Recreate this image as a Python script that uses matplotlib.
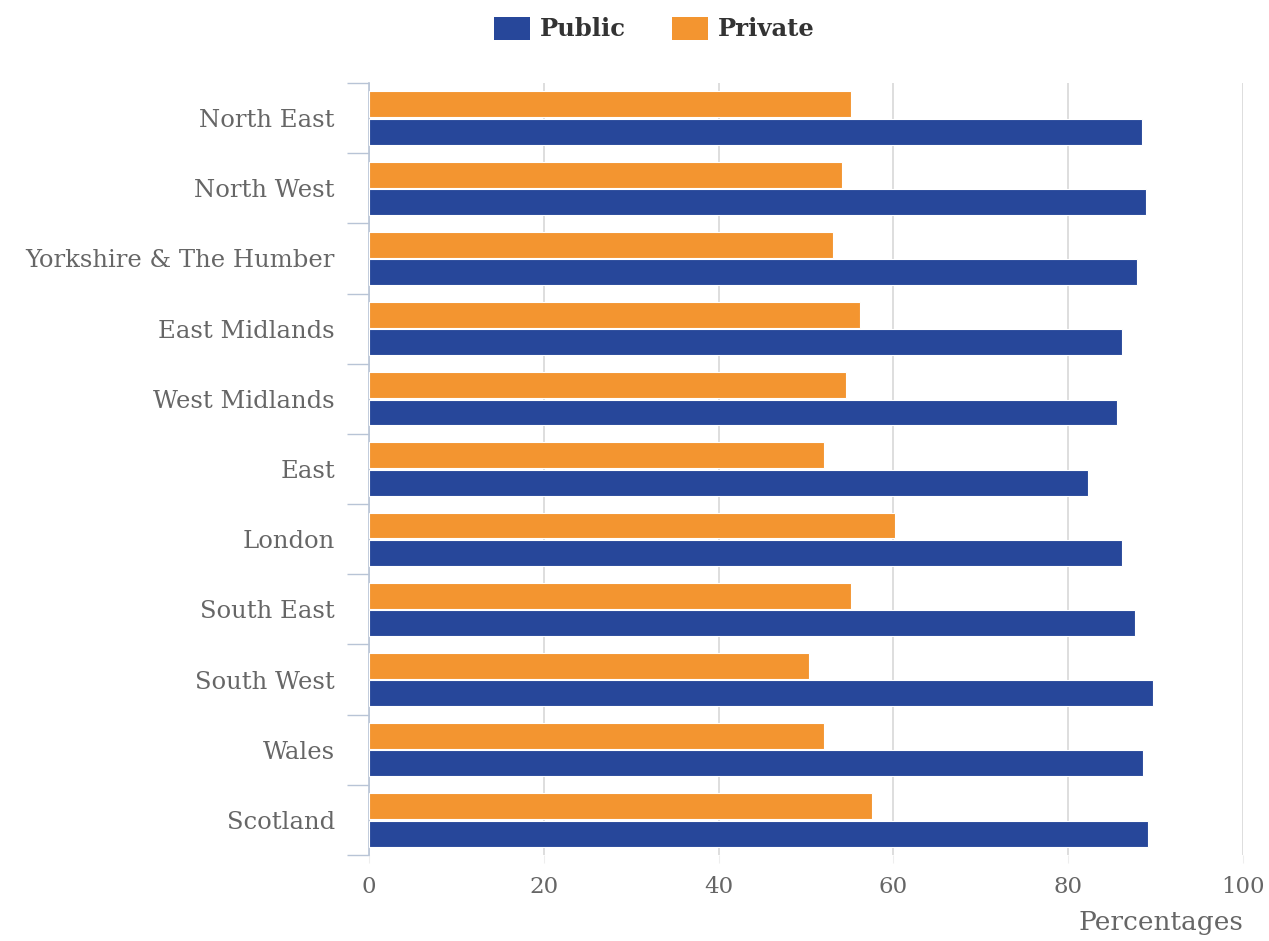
import matplotlib.pyplot as plt
import numpy as np
from matplotlib.patches import Patch

regions = ["North East", "North West", "Yorkshire & The Humber", "East Midlands",
           "West Midlands", "East", "London", "South East", "South West",
           "Wales", "Scotland"]
public = [88.4, 88.9, 87.9, 86.1, 85.6, 82.3, 86.1, 87.6, 89.7, 88.6, 89.1]
private = [55.2, 54.1, 53.1, 56.2, 54.6, 52.1, 60.2, 55.2, 50.3, 52.1, 57.5]
xticks = [0, 20, 40, 60, 80, 100]

blue = "#27479a"
orange = "#f39530"
grey_text = "#666666"
grid_col = "#d8d8d8"

plt.rcParams['font.family'] = ['DejaVu Serif']

fig = plt.figure(figsize=(12.69, 9.41), dpi=100)
ax = fig.add_axes([369 / 1269, 1 - 855 / 941, (1243 - 369) / 1269, (855 - 83) / 941])

y = np.arange(len(regions))
h = 0.37
ax.barh(y - h / 2 - 0.01, private, height=h, color=orange, edgecolor="white", linewidth=0.8, zorder=3)
ax.barh(y + h / 2 + 0.01, public, height=h, color=blue, edgecolor="white", linewidth=0.8, zorder=3)

ax.set_xlim(0, 100)
ax.set_ylim(len(regions) - 0.5, -0.5)

# category labels sit between the boundary ticks
ax.set_yticks(y)
ax.set_yticklabels(regions, fontsize=17.5, color=grey_text)
ax.tick_params(axis='y', length=0, pad=24.5)
ax.set_yticks(np.arange(len(regions) + 1) - 0.5, minor=True)
ax.tick_params(axis='y', which='minor', length=16, color="#b8c4d6", width=1)

ax.set_xticks(xticks)
ax.set_xticklabels([str(t) for t in xticks], fontsize=16.5, color=grey_text)
ax.tick_params(axis='x', length=6, color="#eeeeee", pad=9)
ax.grid(axis='x', color=grid_col, linewidth=1.2, zorder=0)

for s in ["top", "right", "bottom"]:
    ax.spines[s].set_visible(False)
ax.spines["left"].set_color("#b8c4d6")
ax.spines["left"].set_linewidth(1.2)

ax.set_xlabel("Percentages", fontsize=19, color=grey_text, loc="right", labelpad=9)

handles = [Patch(facecolor=blue, label="Public"), Patch(facecolor=orange, label="Private")]
leg = fig.legend(handles=handles, loc="center", bbox_to_anchor=(654 / 1269, 1 - 29 / 941), ncol=2,
                 frameon=False, handlelength=1.48, handleheight=1.1, handletextpad=0.4,
                 columnspacing=1.9, prop={'weight': 'bold', 'size': 17.5})
for t in leg.get_texts():
    t.set_color("#333333")

fig.savefig("out.png", dpi=100)
